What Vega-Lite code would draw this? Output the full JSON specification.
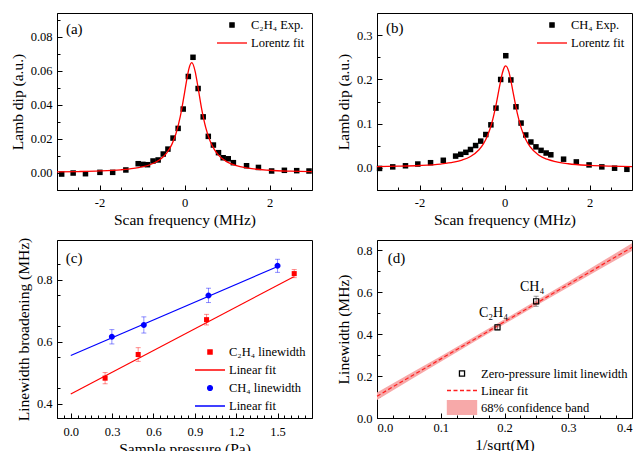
{
  "$schema": "https://vega.github.io/schema/vega-lite/v6.json",
  "padding": {"left": 9, "top": 12, "right": 0, "bottom": 0},
  "background": "white",
  "datasets": {
    "aPts": [
      {"f": -2.89, "v": -0.0008, "s": "exp"}, {"f": -2.62, "v": -0.0002, "s": "exp"}, {"f": -2.33, "v": -0.0006, "s": "exp"},
      {"f": -1.99, "v": 0.0002, "s": "exp"}, {"f": -1.69, "v": 0.0002, "s": "exp"}, {"f": -1.38, "v": 0.0016, "s": "exp"},
      {"f": -1.09, "v": 0.0053, "s": "exp"}, {"f": -0.98, "v": 0.0049, "s": "exp"}, {"f": -0.87, "v": 0.0047, "s": "exp"},
      {"f": -0.74, "v": 0.0069, "s": "exp"}, {"f": -0.62, "v": 0.0075, "s": "exp"}, {"f": -0.5, "v": 0.011, "s": "exp"},
      {"f": -0.39, "v": 0.0139, "s": "exp"}, {"f": -0.27, "v": 0.0204, "s": "exp"}, {"f": -0.15, "v": 0.0261, "s": "exp"},
      {"f": -0.03, "v": 0.0375, "s": "exp"}, {"f": 0.09, "v": 0.0567, "s": "exp"}, {"f": 0.2, "v": 0.068, "s": "exp"},
      {"f": 0.32, "v": 0.0496, "s": "exp"}, {"f": 0.44, "v": 0.0329, "s": "exp"}, {"f": 0.56, "v": 0.0214, "s": "exp"},
      {"f": 0.68, "v": 0.0163, "s": "exp"}, {"f": 0.8, "v": 0.0118, "s": "exp"}, {"f": 0.91, "v": 0.0088, "s": "exp"},
      {"f": 1.03, "v": 0.0082, "s": "exp"}, {"f": 1.15, "v": 0.0059, "s": "exp"}, {"f": 1.46, "v": 0.0041, "s": "exp"},
      {"f": 1.74, "v": 0.0031, "s": "exp"}, {"f": 2.05, "v": 0.001, "s": "exp"}, {"f": 2.35, "v": 0.0014, "s": "exp"},
      {"f": 2.64, "v": 0.0012, "s": "exp"}, {"f": 2.93, "v": 0.001, "s": "exp"}
    ],
    "aFit": [
      {"f": -3, "v": 0.00048, "s": "fit"}, {"f": -2.5, "v": 0.00068, "s": "fit"}, {"f": -2, "v": 0.00102, "s": "fit"},
      {"f": -1.5, "v": 0.00171, "s": "fit"}, {"f": -1.2, "v": 0.00251, "s": "fit"}, {"f": -1, "v": 0.00339, "s": "fit"},
      {"f": -0.8, "v": 0.00482, "s": "fit"}, {"f": -0.6, "v": 0.00733, "s": "fit"}, {"f": -0.5, "v": 0.00935, "s": "fit"},
      {"f": -0.4, "v": 0.01224, "s": "fit"}, {"f": -0.3, "v": 0.01653, "s": "fit"}, {"f": -0.2, "v": 0.0231, "s": "fit"},
      {"f": -0.1, "v": 0.033, "s": "fit"}, {"f": 0, "v": 0.0469, "s": "fit"}, {"f": 0.05, "v": 0.0544, "s": "fit"},
      {"f": 0.1, "v": 0.0609, "s": "fit"}, {"f": 0.17, "v": 0.0648, "s": "fit"}, {"f": 0.25, "v": 0.0597, "s": "fit"},
      {"f": 0.3, "v": 0.053, "s": "fit"}, {"f": 0.4, "v": 0.0381, "s": "fit"}, {"f": 0.5, "v": 0.02655, "s": "fit"},
      {"f": 0.6, "v": 0.0188, "s": "fit"}, {"f": 0.7, "v": 0.01374, "s": "fit"}, {"f": 0.8, "v": 0.01037, "s": "fit"},
      {"f": 0.9, "v": 0.00805, "s": "fit"}, {"f": 1.0, "v": 0.00641, "s": "fit"}, {"f": 1.2, "v": 0.00431, "s": "fit"},
      {"f": 1.5, "v": 0.00266, "s": "fit"}, {"f": 2, "v": 0.00143, "s": "fit"}, {"f": 2.5, "v": 0.00089, "s": "fit"},
      {"f": 3, "v": 0.00061, "s": "fit"}
    ],
    "bPts": [
      {"f": -2.94, "v": -0.002, "s": "exp"}, {"f": -2.63, "v": 0.0015, "s": "exp"}, {"f": -2.33, "v": 0.004, "s": "exp"},
      {"f": -2.04, "v": 0.008, "s": "exp"}, {"f": -1.74, "v": 0.011, "s": "exp"}, {"f": -1.44, "v": 0.0165, "s": "exp"},
      {"f": -1.15, "v": 0.026, "s": "exp"}, {"f": -1.03, "v": 0.03, "s": "exp"}, {"f": -0.91, "v": 0.0346, "s": "exp"},
      {"f": -0.8, "v": 0.041, "s": "exp"}, {"f": -0.68, "v": 0.05, "s": "exp"}, {"f": -0.56, "v": 0.06, "s": "exp"},
      {"f": -0.44, "v": 0.075, "s": "exp"}, {"f": -0.32, "v": 0.097, "s": "exp"}, {"f": -0.2, "v": 0.135, "s": "exp"},
      {"f": -0.09, "v": 0.2, "s": "exp"}, {"f": 0.03, "v": 0.254, "s": "exp"}, {"f": 0.15, "v": 0.199, "s": "exp"},
      {"f": 0.27, "v": 0.138, "s": "exp"}, {"f": 0.39, "v": 0.101, "s": "exp"}, {"f": 0.5, "v": 0.074, "s": "exp"},
      {"f": 0.62, "v": 0.058, "s": "exp"}, {"f": 0.74, "v": 0.047, "s": "exp"}, {"f": 0.86, "v": 0.039, "s": "exp"},
      {"f": 0.98, "v": 0.033, "s": "exp"}, {"f": 1.09, "v": 0.029, "s": "exp"}, {"f": 1.39, "v": 0.019, "s": "exp"},
      {"f": 1.69, "v": 0.0128, "s": "exp"}, {"f": 1.99, "v": 0.006, "s": "exp"}, {"f": 2.29, "v": 0.0015, "s": "exp"},
      {"f": 2.59, "v": -0.0015, "s": "exp"}, {"f": 2.88, "v": -0.004, "s": "exp"}
    ],
    "bFit": [
      {"f": -3, "v": 0.0021, "s": "fit"}, {"f": -2.5, "v": 0.003, "s": "fit"}, {"f": -2, "v": 0.00462, "s": "fit"},
      {"f": -1.5, "v": 0.008, "s": "fit"}, {"f": -1.2, "v": 0.01217, "s": "fit"}, {"f": -1, "v": 0.01697, "s": "fit"},
      {"f": -0.8, "v": 0.0251, "s": "fit"}, {"f": -0.6, "v": 0.0404, "s": "fit"}, {"f": -0.5, "v": 0.0532, "s": "fit"},
      {"f": -0.4, "v": 0.0722, "s": "fit"}, {"f": -0.3, "v": 0.1007, "s": "fit"}, {"f": -0.2, "v": 0.1418, "s": "fit"},
      {"f": -0.1, "v": 0.1924, "s": "fit"}, {"f": -0.05, "v": 0.2147, "s": "fit"}, {"f": 0, "v": 0.2286, "s": "fit"},
      {"f": 0.03, "v": 0.231, "s": "fit"}, {"f": 0.1, "v": 0.2183, "s": "fit"}, {"f": 0.15, "v": 0.1973, "s": "fit"},
      {"f": 0.2, "v": 0.1719, "s": "fit"}, {"f": 0.3, "v": 0.1238, "s": "fit"}, {"f": 0.4, "v": 0.0879, "s": "fit"},
      {"f": 0.5, "v": 0.0637, "s": "fit"}, {"f": 0.6, "v": 0.0475, "s": "fit"}, {"f": 0.8, "v": 0.0287, "s": "fit"},
      {"f": 1.0, "v": 0.01896, "s": "fit"}, {"f": 1.2, "v": 0.01337, "s": "fit"}, {"f": 1.5, "v": 0.00865, "s": "fit"},
      {"f": 2, "v": 0.0049, "s": "fit"}, {"f": 2.5, "v": 0.00314, "s": "fit"}, {"f": 3, "v": 0.00218, "s": "fit"}
    ],
    "cC2": [
      {"p": 0.249, "w": 0.483, "lo": 0.465, "hi": 0.501, "s": "c2"},
      {"p": 0.489, "w": 0.559, "lo": 0.537, "hi": 0.581, "s": "c2"},
      {"p": 0.985, "w": 0.671, "lo": 0.654, "hi": 0.688, "s": "c2"},
      {"p": 1.621, "w": 0.819, "lo": 0.806, "hi": 0.832, "s": "c2"}
    ],
    "cCH": [
      {"p": 0.298, "w": 0.616, "lo": 0.593, "hi": 0.639, "s": "ch"},
      {"p": 0.53, "w": 0.654, "lo": 0.628, "hi": 0.68, "s": "ch"},
      {"p": 0.999, "w": 0.749, "lo": 0.726, "hi": 0.772, "s": "ch"},
      {"p": 1.5, "w": 0.844, "lo": 0.823, "hi": 0.865, "s": "ch"}
    ],
    "cFit": [
      {"p": 0, "w": 0.432, "s": "c2fit"}, {"p": 1.618, "w": 0.809, "s": "c2fit"},
      {"p": 0, "w": 0.556, "s": "chfit"}, {"p": 1.497, "w": 0.841, "s": "chfit"}
    ],
    "dPts": [
      {"x": 0.189, "w": 0.432, "lo": 0.42, "hi": 0.444, "name": "C₂H₄", "s": "pts"},
      {"x": 0.2496, "w": 0.556, "lo": 0.532, "hi": 0.58, "name": "CH₄", "s": "pts"}
    ],
    "dFit": [
      {"x": 0, "w": 0.104, "s": "fit"}, {"x": 0.4, "w": 0.813, "s": "fit"}
    ],
    "dBand": [
      {"x": 0, "lo": 0.086, "hi": 0.122, "s": "band"},
      {"x": 0.05, "lo": 0.1774, "hi": 0.2082, "s": "band"},
      {"x": 0.1, "lo": 0.2684, "hi": 0.2946, "s": "band"},
      {"x": 0.15, "lo": 0.3587, "hi": 0.3819, "s": "band"},
      {"x": 0.2, "lo": 0.448, "hi": 0.47, "s": "band"},
      {"x": 0.25, "lo": 0.5362, "hi": 0.5594, "s": "band"},
      {"x": 0.3, "lo": 0.6234, "hi": 0.6496, "s": "band"},
      {"x": 0.35, "lo": 0.7099, "hi": 0.7407, "s": "band"},
      {"x": 0.4, "lo": 0.7959, "hi": 0.8321, "s": "band"}
    ]
  },
  "columns": 2,
  "spacing": {"row": 50, "column": 65},
  "bounds": "flush",
  "resolve": {
    "scale": {"color": "independent", "shape": "independent", "strokeDash": "independent"},
    "legend": {"color": "independent", "shape": "independent", "strokeDash": "independent"}
  },
  "concat": [
    {
      "width": 255, "height": 177,
      "resolve": {"axis": {"x": "independent", "y": "independent"}},
      "layer": [
        {
          "layer": [
            {
              "data": {"name": "aPts"},
              "mark": {"type": "point", "filled": true, "size": 1540, "opacity": 1},
              "encoding": {
                "x": {"field": "f", "type": "quantitative", "scale": {"domain": [-3, 3], "nice": false, "zero": false},
                      "axis": {"title": "Scan frequency (MHz)", "values": [-2, 0, 2], "labelExpr": "replace(datum.label, '−', '-')", "labelPadding": 11}},
                "y": {"field": "v", "type": "quantitative", "scale": {"domain": [-0.0102, 0.0941], "nice": false, "zero": false},
                      "axis": {"title": "Lamb dip (a.u.)", "values": [0, 0.02, 0.04, 0.06, 0.08], "format": ".2f"}},
                "color": {"field": "s", "type": "nominal", "scale": {"domain": ["exp", "fit"], "range": ["black", "#ff0000"]},
                          "legend": {"title": null, "orient": "none", "legendX": 159, "legendY": 3,
                                     "labelExpr": "datum.value == 'exp' ? 'C₂H₄ Exp.' : 'Lorentz fit'"}},
                "shape": {"field": "s", "type": "nominal", "scale": {"domain": ["exp", "fit"], "range": ["M-0.14,-0.14H0.14V0.14H-0.14Z", "stroke"]},
                          "legend": {"title": null, "orient": "none", "legendX": 159, "legendY": 3,
                                     "labelExpr": "datum.value == 'exp' ? 'C₂H₄ Exp.' : 'Lorentz fit'"}}
              }
            },
            {
              "data": {"name": "aFit"},
              "mark": {"type": "line", "strokeWidth": 1.3, "interpolate": "monotone"},
              "encoding": {
                "x": {"field": "f", "type": "quantitative"},
                "y": {"field": "v", "type": "quantitative"},
                "color": {"field": "s", "type": "nominal"}
              }
            },
            {
              "data": {"values": [{"f": -2.79, "v": 0.0849, "t": "(a)"}]},
              "mark": {"type": "text", "align": "left", "baseline": "middle", "fontSize": 15, "color": "black"},
              "encoding": {
                "x": {"field": "f", "type": "quantitative"},
                "y": {"field": "v", "type": "quantitative"},
                "text": {"field": "t"}
              }
            }
          ]
        },
        {
          "data": {"name": "aFit"},
          "mark": {"type": "point", "opacity": 0},
          "encoding": {
            "x": {"field": "f", "type": "quantitative",
                  "axis": {"orient": "bottom", "values": [-2.5, -1.5, -1, -0.5, 0.5, 1, 1.5, 2.5], "labels": false, "domain": false, "title": null, "tickSize": -3}},
            "y": {"field": "v", "type": "quantitative",
                  "axis": {"orient": "left", "values": [-0.01, 0.01, 0.03, 0.05, 0.07, 0.09], "labels": false, "domain": false, "title": null, "tickSize": -3}}
          }
        }
      ]
    },
    {
      "width": 255, "height": 177,
      "resolve": {"axis": {"x": "independent", "y": "independent"}},
      "layer": [
        {
          "layer": [
            {
              "data": {"name": "bPts"},
              "mark": {"type": "point", "filled": true, "size": 1540, "opacity": 1},
              "encoding": {
                "x": {"field": "f", "type": "quantitative", "scale": {"domain": [-3, 3], "nice": false, "zero": false},
                      "axis": {"title": "Scan frequency (MHz)", "values": [-2, 0, 2], "labelExpr": "replace(datum.label, '−', '-')", "labelPadding": 11}},
                "y": {"field": "v", "type": "quantitative", "scale": {"domain": [-0.051, 0.351], "nice": false, "zero": false},
                      "axis": {"title": "Lamb dip (a.u.)", "values": [0, 0.1, 0.2, 0.3], "format": ".1f"}},
                "color": {"field": "s", "type": "nominal", "scale": {"domain": ["exp", "fit"], "range": ["black", "#ff0000"]},
                          "legend": {"title": null, "orient": "none", "legendX": 159, "legendY": 3,
                                     "labelExpr": "datum.value == 'exp' ? 'CH₄ Exp.' : 'Lorentz fit'"}},
                "shape": {"field": "s", "type": "nominal", "scale": {"domain": ["exp", "fit"], "range": ["M-0.14,-0.14H0.14V0.14H-0.14Z", "stroke"]},
                          "legend": {"title": null, "orient": "none", "legendX": 159, "legendY": 3,
                                     "labelExpr": "datum.value == 'exp' ? 'CH₄ Exp.' : 'Lorentz fit'"}}
              }
            },
            {
              "data": {"name": "bFit"},
              "mark": {"type": "line", "strokeWidth": 1.3, "interpolate": "monotone"},
              "encoding": {
                "x": {"field": "f", "type": "quantitative"},
                "y": {"field": "v", "type": "quantitative"},
                "color": {"field": "s", "type": "nominal"}
              }
            },
            {
              "data": {"values": [{"f": -2.79, "v": 0.318, "t": "(b)"}]},
              "mark": {"type": "text", "align": "left", "baseline": "middle", "fontSize": 15, "color": "black"},
              "encoding": {
                "x": {"field": "f", "type": "quantitative"},
                "y": {"field": "v", "type": "quantitative"},
                "text": {"field": "t"}
              }
            }
          ]
        },
        {
          "data": {"name": "bFit"},
          "mark": {"type": "point", "opacity": 0},
          "encoding": {
            "x": {"field": "f", "type": "quantitative",
                  "axis": {"orient": "bottom", "values": [-2.5, -1.5, -1, -0.5, 0.5, 1, 1.5, 2.5], "labels": false, "domain": false, "title": null, "tickSize": -3}},
            "y": {"field": "v", "type": "quantitative",
                  "axis": {"orient": "left", "values": [-0.05, 0.05, 0.15, 0.25], "labels": false, "domain": false, "title": null, "tickSize": -3}}
          }
        }
      ]
    },
    {
      "width": 255, "height": 178,
      "resolve": {"axis": {"x": "independent", "y": "independent"}},
      "layer": [
        {
          "layer": [
            {
              "data": {"name": "cFit"},
              "mark": {"type": "line", "strokeWidth": 1.2},
              "encoding": {
                "x": {"field": "p", "type": "quantitative", "scale": {"domain": [-0.1, 1.75], "nice": false, "zero": false},
                      "axis": {"title": "Sample pressure (Pa)", "values": [0, 0.3, 0.6, 0.9, 1.2, 1.5], "format": ".1f", "labelPadding": 12}},
                "y": {"field": "w", "type": "quantitative", "scale": {"domain": [0.355, 0.927], "nice": false, "zero": false},
                      "axis": {"title": "Linewidth broadening (MHz)", "values": [0.4, 0.5, 0.6, 0.7, 0.8, 0.9], "format": ".1f"}},
                "color": {"field": "s", "type": "nominal", "scale": {"domain": ["c2", "c2fit", "ch", "chfit"], "range": ["#ff0000", "#ff0000", "#0000ff", "#0000ff"]},
                          "legend": {"title": null, "orient": "none", "legendX": 137, "legendY": 103,
                                     "labelExpr": "datum.value == 'c2' ? 'C₂H₄ linewidth' : datum.value == 'ch' ? 'CH₄ linewidth' : 'Linear fit'"}}
              }
            },
            {
              "data": {"name": "cC2"},
              "mark": {"type": "errorbar", "ticks": true, "color": "#ff0000", "opacity": 0.45},
              "encoding": {
                "x": {"field": "p", "type": "quantitative", "title": "Sample pressure (Pa)"},
                "y": {"field": "lo", "type": "quantitative", "title": "Linewidth broadening (MHz)"},
                "y2": {"field": "hi"}
              }
            },
            {
              "data": {"name": "cCH"},
              "mark": {"type": "errorbar", "ticks": true, "color": "#0000ff", "opacity": 0.45},
              "encoding": {
                "x": {"field": "p", "type": "quantitative", "title": "Sample pressure (Pa)"},
                "y": {"field": "lo", "type": "quantitative", "title": "Linewidth broadening (MHz)"},
                "y2": {"field": "hi"}
              }
            },
            {
              "data": {"name": "cC2"},
              "mark": {"type": "point", "filled": true, "size": 1300, "opacity": 1},
              "encoding": {
                "x": {"field": "p", "type": "quantitative"},
                "y": {"field": "w", "type": "quantitative"},
                "color": {"field": "s", "type": "nominal"},
                "shape": {"field": "s", "type": "nominal",
                          "scale": {"domain": ["c2", "c2fit", "ch", "chfit"], "range": ["M-0.14,-0.14H0.14V0.14H-0.14Z", "stroke", "M0.16,0A0.16,0.16,0,1,1,-0.16,0A0.16,0.16,0,1,1,0.16,0Z", "stroke"]},
                          "legend": {"title": null, "orient": "none", "legendX": 137, "legendY": 103,
                                     "labelExpr": "datum.value == 'c2' ? 'C₂H₄ linewidth' : datum.value == 'ch' ? 'CH₄ linewidth' : 'Linear fit'"}}
              }
            },
            {
              "data": {"name": "cCH"},
              "mark": {"type": "point", "filled": true, "size": 1400, "opacity": 1},
              "encoding": {
                "x": {"field": "p", "type": "quantitative"},
                "y": {"field": "w", "type": "quantitative"},
                "color": {"field": "s", "type": "nominal"},
                "shape": {"field": "s", "type": "nominal"}
              }
            },
            {
              "data": {"values": [{"p": -0.036, "w": 0.868, "t": "(c)"}]},
              "mark": {"type": "text", "align": "left", "baseline": "middle", "fontSize": 15, "color": "black"},
              "encoding": {
                "x": {"field": "p", "type": "quantitative"},
                "y": {"field": "w", "type": "quantitative"},
                "text": {"field": "t"}
              }
            }
          ]
        },
        {
          "data": {"name": "cCH"},
          "mark": {"type": "point", "opacity": 0},
          "encoding": {
            "x": {"field": "p", "type": "quantitative",
                  "axis": {"orient": "bottom", "values": [-0.05, 0.05, 0.1, 0.15, 0.2, 0.25, 0.35, 0.4, 0.45, 0.5, 0.55, 0.65, 0.7, 0.75, 0.8, 0.85, 0.95, 1.0, 1.05, 1.1, 1.15, 1.25, 1.3, 1.35, 1.4, 1.45, 1.55, 1.6, 1.65, 1.7], "labels": false, "domain": false, "title": null, "tickSize": -3}},
            "y": {"field": "w", "type": "quantitative",
                  "axis": {"orient": "left", "values": [0.45, 0.55, 0.65, 0.75, 0.85], "labels": false, "domain": false, "title": null, "tickSize": -3}}
          }
        }
      ]
    },
    {
      "width": 255, "height": 178,
      "resolve": {"axis": {"x": "independent", "y": "independent"}},
      "layer": [
        {
          "layer": [
            {
              "data": {"name": "dBand"},
              "mark": {"type": "area", "opacity": 1},
              "encoding": {
                "x": {"field": "x", "type": "quantitative", "scale": {"domain": [0, 0.4], "nice": false, "zero": false},
                      "axis": {"title": "1/sqrt(M)", "values": [0, 0.1, 0.2, 0.3, 0.4], "format": ".1f", "labelPadding": 8}},
                "y": {"field": "lo", "type": "quantitative", "scale": {"domain": [0, 0.848], "nice": false, "zero": false},
                      "axis": {"title": "Linewidth (MHz)", "values": [0, 0.2, 0.4, 0.6, 0.8], "format": ".1f"}},
                "y2": {"field": "hi"},
                "color": {"field": "s", "type": "nominal", "scale": {"domain": ["pts", "fit", "band"], "range": ["black", "#ff2020", "#f7a9a9"]},
                          "legend": {"title": null, "orient": "none", "legendX": 69, "legendY": 125, "clipHeight": 17,
                                     "labelExpr": "datum.value == 'pts' ? 'Zero-pressure limit linewidth' : datum.value == 'fit' ? 'Linear fit' : '68% confidence band'"}}
              }
            },
            {
              "data": {"name": "dFit"},
              "mark": {"type": "line", "strokeWidth": 1.2},
              "encoding": {
                "x": {"field": "x", "type": "quantitative"},
                "y": {"field": "w", "type": "quantitative", "title": "Linewidth (MHz)"},
                "color": {"field": "s", "type": "nominal"},
                "strokeDash": {"field": "s", "type": "nominal",
                               "scale": {"domain": ["pts", "fit", "band"], "range": [[1, 0], [4, 2.5], [1, 0]]},
                               "legend": {"title": null, "orient": "none", "legendX": 69, "legendY": 125, "clipHeight": 17,
                                          "labelExpr": "datum.value == 'pts' ? 'Zero-pressure limit linewidth' : datum.value == 'fit' ? 'Linear fit' : '68% confidence band'"}}
              }
            },
            {
              "data": {"name": "dPts"},
              "mark": {"type": "errorbar", "ticks": true, "color": "#555555", "opacity": 0.6},
              "encoding": {
                "x": {"field": "x", "type": "quantitative", "title": "1/sqrt(M)"},
                "y": {"field": "lo", "type": "quantitative", "title": "Linewidth (MHz)"},
                "y2": {"field": "hi"}
              }
            },
            {
              "data": {"name": "dPts"},
              "mark": {"type": "point", "filled": false, "size": 900, "strokeWidth": 1.2, "opacity": 1},
              "encoding": {
                "x": {"field": "x", "type": "quantitative"},
                "y": {"field": "w", "type": "quantitative"},
                "color": {"field": "s", "type": "nominal"},
                "shape": {"field": "s", "type": "nominal",
                          "scale": {"domain": ["pts", "fit", "band"], "range": ["M-0.17,-0.17H0.17V0.17H-0.17ZM-0.17,-0.17V0.17H0.17V-0.17Z", "stroke", "M-0.97,-0.45H0.97V0.45H-0.97Z"]},
                          "legend": {"title": null, "orient": "none", "legendX": 69, "legendY": 125, "clipHeight": 17,
                                     "labelExpr": "datum.value == 'pts' ? 'Zero-pressure limit linewidth' : datum.value == 'fit' ? 'Linear fit' : '68% confidence band'"}}
              }
            },
            {
              "data": {"name": "dPts"},
              "mark": {"type": "text", "align": "center", "baseline": "bottom", "dy": -7, "dx": -4, "fontSize": 14, "color": "black"},
              "encoding": {
                "x": {"field": "x", "type": "quantitative"},
                "y": {"field": "w", "type": "quantitative"},
                "text": {"field": "name"}
              }
            },
            {
              "data": {"values": [{"x": 0.0167, "w": 0.762, "t": "(d)"}]},
              "mark": {"type": "text", "align": "left", "baseline": "middle", "fontSize": 15, "color": "black"},
              "encoding": {
                "x": {"field": "x", "type": "quantitative"},
                "y": {"field": "w", "type": "quantitative"},
                "text": {"field": "t"}
              }
            }
          ]
        },
        {
          "data": {"name": "dBand"},
          "mark": {"type": "point", "opacity": 0},
          "encoding": {
            "x": {"field": "x", "type": "quantitative",
                  "axis": {"orient": "bottom", "values": [0.025, 0.05, 0.075, 0.125, 0.15, 0.175, 0.225, 0.25, 0.275, 0.325, 0.35, 0.375], "labels": false, "domain": false, "title": null, "tickSize": -3}},
            "y": {"field": "lo", "type": "quantitative",
                  "axis": {"orient": "left", "values": [0.1, 0.3, 0.5, 0.7], "labels": false, "domain": false, "title": null, "tickSize": -3}}
          }
        }
      ]
    }
  ],
  "config": {
    "font": "Liberation Serif, Times New Roman, Times, DejaVu Serif, serif",
    "text": {"font": "Liberation Serif, Times New Roman, Times, DejaVu Serif, serif"},
    "view": {"stroke": "black", "strokeWidth": 1},
    "axis": {
      "grid": false, "domainColor": "black", "domainWidth": 1, "tickColor": "black", "tickSize": -5, "tickWidth": 1,
      "labelColor": "black", "labelFont": "Liberation Serif, Times New Roman, Times, DejaVu Serif, serif", "labelFontSize": 12.5,
      "titleFont": "Liberation Serif, Times New Roman, Times, DejaVu Serif, serif", "titleFontSize": 15.5, "titleFontWeight": "normal", "titleColor": "black"
    },
    "axisX": {"labelPadding": 11, "titlePadding": 4},
    "axisY": {"labelPadding": 10, "titlePadding": 5},
    "legend": {
      "symbolSize": 900, "clipHeight": 18, "rowPadding": 0, "labelFontSize": 12.5, "labelFont": "Liberation Serif, Times New Roman, Times, DejaVu Serif, serif",
      "labelColor": "black", "labelOffset": 3, "padding": 0, "labelLimit": 300, "symbolStrokeWidth": 1.3
    }
  }
}
